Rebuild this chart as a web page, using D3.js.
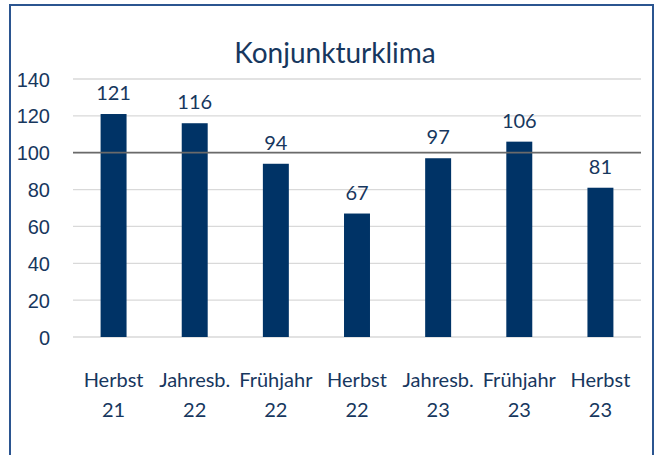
<!DOCTYPE html>
<html>
<head>
<meta charset="utf-8">
<script src="https://cdn.jsdelivr.net/npm/d3@7"></script>
<style>
  body { margin: 0; background: #fff; }
  svg { display: block; font-family: Lato, "Open Sans", sans-serif; }
</style>
</head>
<body>
<div id="chart"></div>
<script>
// chart data
var categories = [["Herbst", "21"], ["Jahresb.", "22"], ["Frühjahr", "22"], ["Herbst", "22"],
                  ["Jahresb.", "23"], ["Frühjahr", "23"], ["Herbst", "23"]];
var values = [121, 116, 94, 67, 97, 106, 81];
var yTicks = [0, 20, 40, 60, 80, 100, 120, 140];
var refValue = 100;
var title = "Konjunkturklima";

var width = 660, height = 455;
var textColor = "#17375e";
var barColor = "#003366";

var svg = d3.select("#chart").append("svg")
    .attr("width", width)
    .attr("height", height);

//outer frame, bottom edge runs past the picture
svg.append("rect")
    .attr("x", 10).attr("y", 5)
    .attr("width", 643).attr("height", 470)
    .style("fill", "none")
    .style("stroke", "#2b5590")
    .style("stroke-width", 2);

var x = d3.scaleBand()
    .domain(d3.range(values.length))
    .range([73, 641])
    .paddingInner(0.68)
    .paddingOuter(0.34);

var y = d3.scaleLinear()
    .domain([0, 140])
    .range([337, 79]);

//gridlines
svg.selectAll(".grid")
    .data(yTicks)
    .enter()
    .append("line")
    .attr("class", "grid")
    .attr("x1", 73).attr("x2", 641)
    .attr("y1", function(d) { return y(d); })
    .attr("y2", function(d) { return y(d); })
    .style("stroke", "#d9d9d9")
    .style("stroke-width", 1.3);

//y axis labels
var yAxis = d3.axisLeft(y).tickValues(yTicks).tickSize(0).tickPadding(0);
var yg = svg.append("g")
    .attr("transform", "translate(50,0)")
    .call(yAxis);
yg.select(".domain").remove();
yg.selectAll("text")
    .style("font-size", "20px")
    .style("fill", textColor)
    .attr("dy", "0.35em");

//bars
svg.selectAll(".bar")
    .data(values)
    .enter()
    .append("rect")
    .attr("class", "bar")
    .attr("x", function(d, i) { return x(i); })
    .attr("y", function(d) { return y(d); })
    .attr("width", x.bandwidth())
    .attr("height", function(d) { return y(0) - y(d); })
    .style("fill", barColor);

//reference line at 100, drawn over bars
svg.append("line")
    .attr("x1", 73).attr("x2", 641)
    .attr("y1", y(refValue)).attr("y2", y(refValue))
    .style("stroke", "#6a6a6a")
    .style("stroke-width", 1.7);

//value labels
svg.selectAll(".lbl")
    .data(values)
    .enter()
    .append("text")
    .attr("class", "lbl")
    .attr("x", function(d, i) { return x(i) + x.bandwidth() / 2; })
    .attr("y", function(d) { return y(d) - 14; })
    .attr("text-anchor", "middle")
    .style("font-size", "20px")
    .style("fill", textColor)
    .text(function(d) { return d; });

//category labels, two lines each
var cat = svg.selectAll(".cat")
    .data(categories)
    .enter()
    .append("text")
    .attr("class", "cat")
    .attr("text-anchor", "middle")
    .style("font-size", "20px")
    .style("fill", textColor);
cat.append("tspan")
    .attr("x", function(d, i) { return x(i) + x.bandwidth() / 2; })
    .attr("y", 387)
    .text(function(d) { return d[0]; });
cat.append("tspan")
    .attr("x", function(d, i) { return x(i) + x.bandwidth() / 2; })
    .attr("y", 417)
    .text(function(d) { return d[1]; });

//title
svg.append("text")
    .attr("x", 335)
    .attr("y", 63)
    .attr("text-anchor", "middle")
    .style("font-size", "28px")
    .style("fill", textColor)
    .text(title);
</script>
</body>
</html>
